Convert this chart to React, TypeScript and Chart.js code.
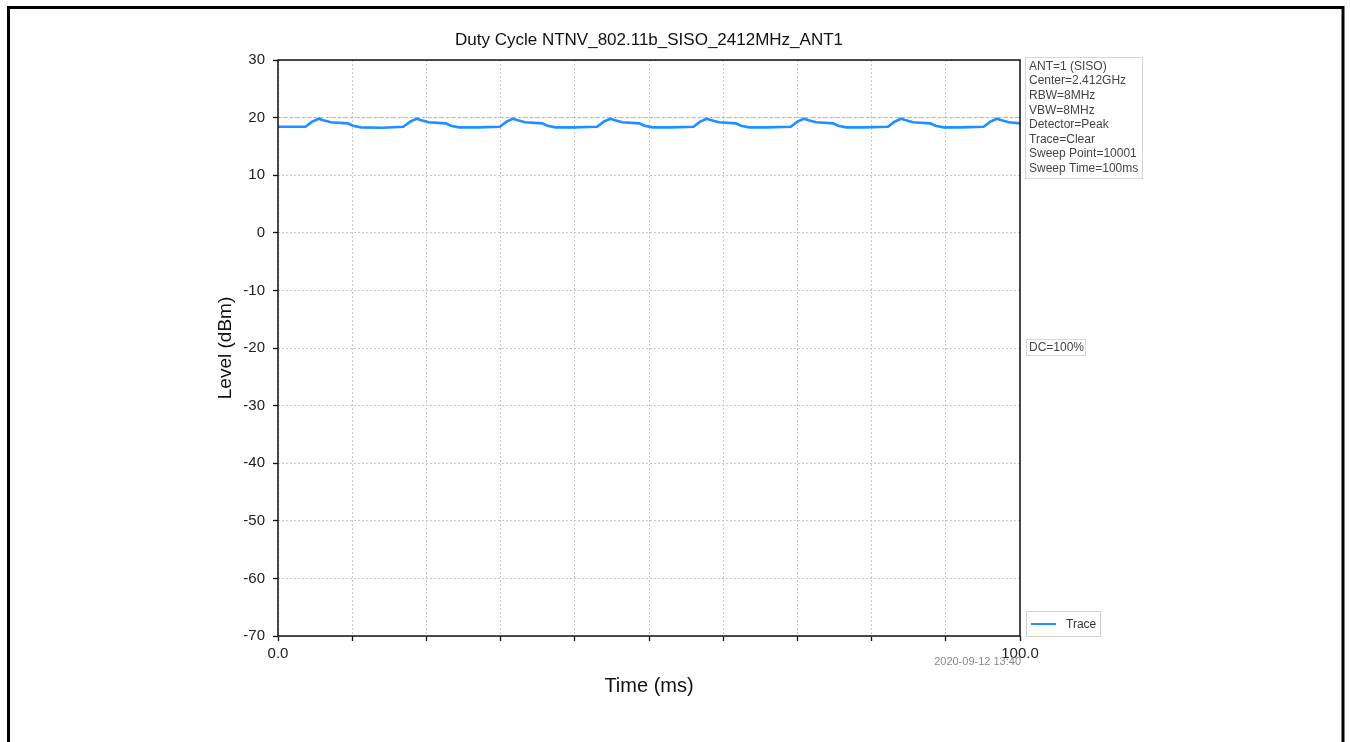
import React, { useEffect, useRef } from 'react';
import { Chart, registerables } from 'chart.js';

Chart.register(...registerables);

// ---- data ----
const traceTimes: number[] = [
  0, 3.7, 4.6, 5.5, 6.0, 7.1, 9.4, 10.1, 11.2, 14.0,
  16.9, 17.8, 18.7, 19.2, 20.3, 22.6, 23.3, 24.4, 27.0,
  29.9, 30.8, 31.7, 32.2, 33.3, 35.6, 36.3, 37.4, 40.0,
  43.0, 43.9, 44.8, 45.3, 46.4, 48.7, 49.4, 50.5, 53.0,
  56.0, 56.9, 57.8, 58.3, 59.4, 61.7, 62.4, 63.5, 66.0,
  69.1, 70.0, 70.9, 71.4, 72.5, 74.8, 75.5, 76.6, 79.0,
  82.2, 83.1, 84.0, 84.5, 85.6, 87.9, 88.6, 89.7, 92.0,
  95.1, 96.0, 96.9, 97.4, 98.5, 100,
];
const traceLevels: number[] = [
  18.4, 18.4, 19.3, 19.8, 19.6, 19.2, 19.0, 18.6, 18.3, 18.25,
  18.4, 19.3, 19.8, 19.6, 19.2, 19.0, 18.6, 18.3, 18.3,
  18.4, 19.3, 19.8, 19.6, 19.2, 19.0, 18.6, 18.3, 18.3,
  18.4, 19.3, 19.8, 19.6, 19.2, 19.0, 18.6, 18.3, 18.3,
  18.4, 19.3, 19.8, 19.6, 19.2, 19.0, 18.6, 18.3, 18.3,
  18.4, 19.3, 19.8, 19.6, 19.2, 19.0, 18.6, 18.3, 18.3,
  18.4, 19.3, 19.8, 19.6, 19.2, 19.0, 18.6, 18.3, 18.3,
  18.4, 19.3, 19.8, 19.6, 19.2, 19.0,
];
const refLevel = 20;
const xRange: number[] = [0, 100];
const yRange: number[] = [-70, 30];
const xStep = 10;
const yStep = 10;
const xTickLabels: Record<number, string> = { 0: '0.0', 100: '100.0' };

const titleText = 'Duty Cycle NTNV_802.11b_SISO_2412MHz_ANT1';
const xAxisTitle = 'Time (ms)';
const yAxisTitle = 'Level (dBm)';
const infoLines: string[] = [
  'ANT=1 (SISO)',
  'Center=2.412GHz',
  'RBW=8MHz',
  'VBW=8MHz',
  'Detector=Peak',
  'Trace=Clear',
  'Sweep Point=10001',
  'Sweep Time=100ms',
];
const dcLabel = 'DC=100%';
const legendLabel = 'Trace';
const timestamp = '2020-09-12 13:40';

const FONT = '"Liberation Sans", Arial, Helvetica, sans-serif';
const TRACE_COLOR = '#1E90FF';

const W = 1350;
const H = 742;

const decorPlugin = {
  id: 'decor',
  afterDraw(chart: any) {
    const { ctx, chartArea } = chart;
    const { left, right, top, bottom } = chartArea;
    ctx.save();

    // page frame
    ctx.strokeStyle = '#000';
    ctx.lineWidth = 3;
    ctx.beginPath();
    ctx.moveTo(8.5, H + 5);
    ctx.lineTo(8.5, 7.5);
    ctx.lineTo(1343, 7.5);
    ctx.lineTo(1343, H + 5);
    ctx.stroke();

    // plot frame
    ctx.lineWidth = 1.5;
    ctx.strokeStyle = '#111';
    ctx.strokeRect(left, top, right - left, bottom - top);

    // title
    ctx.fillStyle = '#111';
    ctx.font = `17px ${FONT}`;
    ctx.textAlign = 'center';
    ctx.textBaseline = 'middle';
    ctx.fillText(titleText, (left + right) / 2, 40);

    // x axis title
    ctx.font = `20px ${FONT}`;
    ctx.fillText(xAxisTitle, (left + right) / 2, 686);

    // y axis title
    ctx.save();
    ctx.font = `19px ${FONT}`;
    ctx.translate(226, (top + bottom) / 2);
    ctx.rotate(-Math.PI / 2);
    ctx.fillText(yAxisTitle, 0, 0);
    ctx.restore();

    // info box
    ctx.lineWidth = 1;
    ctx.strokeStyle = '#d8d8d8';
    ctx.fillStyle = 'rgba(255,255,255,0.9)';
    const bx = 1025.5, by = 57.5, bw = 117, bh = 121;
    ctx.fillRect(bx, by, bw, bh);
    ctx.strokeRect(bx, by, bw, bh);
    ctx.fillStyle = '#444';
    ctx.font = `12px ${FONT}`;
    ctx.textAlign = 'left';
    ctx.textBaseline = 'middle';
    infoLines.forEach((t, i) => {
      ctx.fillText(t, 1029, 66.5 + i * 14.6);
    });

    // DC box
    ctx.strokeRect(1026.5, 339.5, 59, 16);
    ctx.fillText(dcLabel, 1029, 348);

    // legend
    ctx.strokeStyle = '#d0d0d0';
    ctx.strokeRect(1026.5, 611.5, 74, 25);
    ctx.strokeStyle = TRACE_COLOR;
    ctx.lineWidth = 2;
    ctx.beginPath();
    ctx.moveTo(1031, 624);
    ctx.lineTo(1056, 624);
    ctx.stroke();
    ctx.fillStyle = '#333';
    ctx.fillText(legendLabel, 1066, 624.5);

    // timestamp
    ctx.fillStyle = '#888';
    ctx.font = `11px ${FONT}`;
    ctx.textAlign = 'right';
    ctx.fillText(timestamp, 1021, 662);

    ctx.restore();
  },
};

export default function App() {
  const ref = useRef<HTMLCanvasElement | null>(null);

  useEffect(() => {
    if (!ref.current) return;
    const tracePts = traceTimes.map((t, i) => ({ x: t, y: traceLevels[i] }));
    const refPts = xRange.map((t) => ({ x: t, y: refLevel }));
    const chart = new Chart(ref.current, {
      type: 'line',
      data: {
        datasets: [
          {
            label: 'Limit',
            data: refPts,
            borderColor: 'rgba(225,140,110,0.75)',
            borderWidth: 1,
            borderDash: [3, 3],
            pointRadius: 0,
            fill: false,
          },
          {
            label: legendLabel,
            data: tracePts,
            borderColor: TRACE_COLOR,
            borderWidth: 2.6,
            pointRadius: 0,
            tension: 0,
            fill: false,
          },
        ],
      },
      plugins: [decorPlugin],
      options: {
        responsive: false,
        animation: false,
        events: [],
        layout: { padding: { left: 0, top: 60, right: 330, bottom: 0 } },
        plugins: {
          legend: { display: false },
          title: { display: false },
          tooltip: { enabled: false },
        },
        scales: {
          x: {
            type: 'linear',
            min: xRange[0],
            max: xRange[1],
            afterFit: (s: any) => {
              s.height = 106;
            },
            ticks: {
              stepSize: xStep,
              autoSkip: false,
              maxRotation: 0,
              padding: 4,
              color: '#222',
              font: { family: FONT, size: 15 },
              callback: (v: any) => (xTickLabels[v as number] ?? ''),
            },
            grid: {
              color: '#c8c8c8',
              lineWidth: 1,
              tickLength: 5,
              tickColor: '#111',
              tickWidth: 1.3,
            },
            border: { display: false, dash: [2, 2] },
          },
          y: {
            type: 'linear',
            min: yRange[0],
            max: yRange[1],
            afterFit: (s: any) => {
              s.width = 278;
            },
            ticks: {
              stepSize: yStep,
              padding: 8,
              color: '#222',
              font: { family: FONT, size: 15 },
            },
            grid: {
              color: '#c8c8c8',
              lineWidth: 1,
              tickLength: 5,
              tickColor: '#111',
              tickWidth: 1.3,
            },
            border: { display: false, dash: [2, 2] },
          },
        },
      },
    });
    return () => chart.destroy();
  }, []);

  return (
    <div style={{ position: 'fixed', left: 0, top: 0, width: W, height: H, background: '#fff' }}>
      <canvas ref={ref} width={W} height={H} style={{ width: W, height: H, display: 'block' }} />
    </div>
  );
}
